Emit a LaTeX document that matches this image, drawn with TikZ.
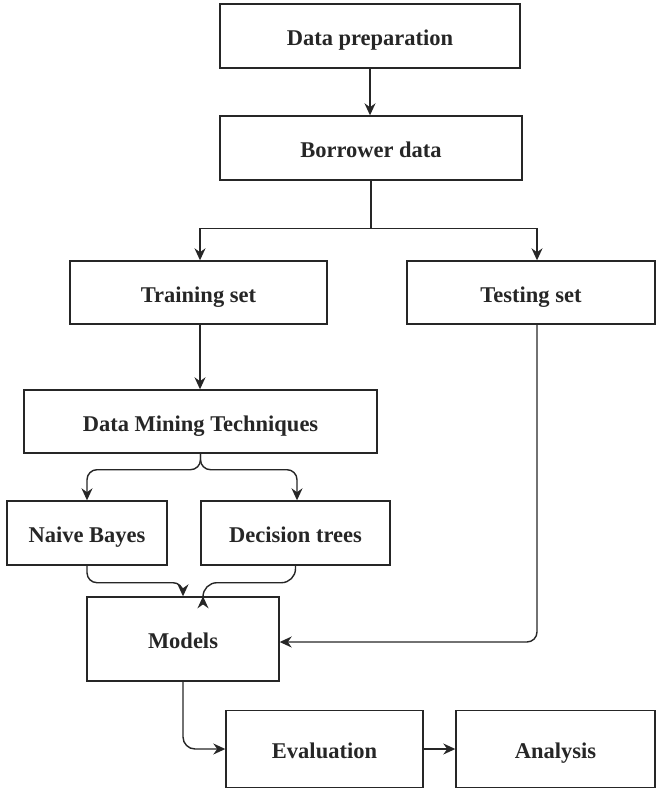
\documentclass[tikz,border=0pt]{standalone}
\usepackage{fontspec}
\setmainfont{Liberation Serif}
\usetikzlibrary{arrows.meta}
\begin{document}
\begin{tikzpicture}[x=1pt,y=-1pt,
  box/.style={draw=black!85, line width=1.4pt, inner sep=0pt, align=center,
    text height=21pt, text depth=2pt,
    font=\fontsize{22.5}{26}\selectfont\bfseries, text=black!85},
  arr/.style={draw=black!85, line width=1.4pt, -{Stealth[length=12pt,width=11pt]}},
  ln/.style={draw=black!85, line width=1.4pt}]
\useasboundingbox (0,0) rectangle (657,789);
\node[box, minimum width=300pt, minimum height=64pt] (dp) at (370,36) {Data preparation};
\node[box, minimum width=302pt, minimum height=64pt] (bd) at (371,148) {Borrower data};
\node[box, minimum width=257pt, minimum height=63pt] (tr) at (198.5,292.5) {Training set};
\node[box, minimum width=248pt, minimum height=63pt] (ts) at (531,292.5) {Testing set};
\node[box, minimum width=353pt, minimum height=63pt] (dmt) at (200.5,421.5) {Data Mining Techniques};
\node[box, minimum width=160pt, minimum height=64pt] (nb) at (87,533) {Naive Bayes};
\node[box, minimum width=189pt, minimum height=64pt] (dt) at (295.5,533) {Decision trees};
\node[box, minimum width=192pt, minimum height=84pt] (mo) at (183,639) {Models};
\node[box, minimum width=197pt, minimum height=77pt] (ev) at (324.5,749) {Evaluation};
\node[box, minimum width=199pt, minimum height=77pt] (an) at (555.5,749) {Analysis};

\draw[arr] (dp.south) -- (dp.south |- bd.north);
\draw[ln] (bd.south) -- ++(0,48) coordinate (split);
\draw[arr] (split) -| ([xshift=1.5pt]tr.north);
\draw[arr] (split) -| ([xshift=6pt]ts.north);
\draw[arr] ([xshift=1.5pt]tr.south) -- ([xshift=1.5pt]tr.south |- dmt.north);
\draw[arr, rounded corners=10pt] (dmt.south) -- ++(0,16) -| (nb.north);
\draw[arr, rounded corners=10pt] (dmt.south) -- ++(0,16) -| ([xshift=1.5pt]dt.north);
\draw[arr, rounded corners=10pt] (nb.south) -- ++(0,17) -| (mo.north);
\draw[arr, rounded corners=14pt] (dt.south) -- ++(0,17) -| ([xshift=20pt]mo.north);
\draw[arr, rounded corners=10pt] ([xshift=6pt]ts.south) |- ([yshift=-3pt]mo.east);
\draw[arr, rounded corners=12pt] (mo.south) |- (ev.west);
\draw[arr] (ev.east) -- (an.west);
\end{tikzpicture}
\end{document}
